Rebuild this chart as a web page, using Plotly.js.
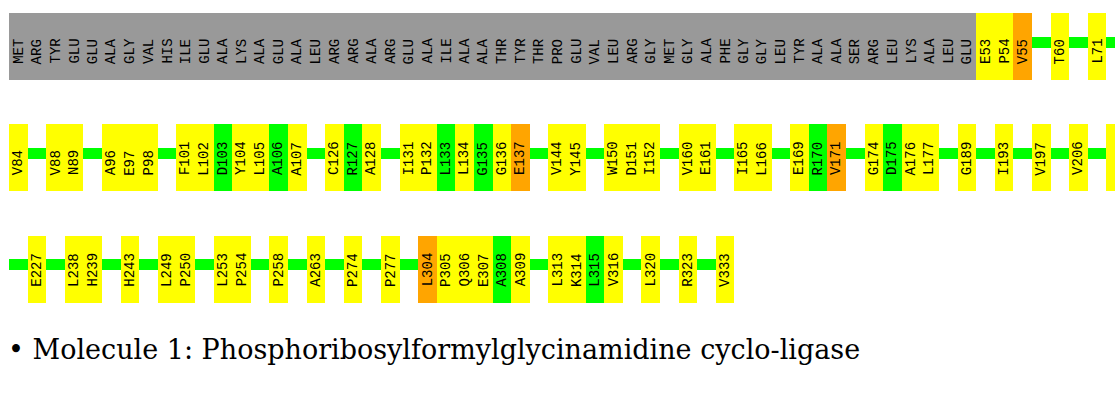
<!DOCTYPE html>
<html><head><meta charset="utf-8">
<script src="https://cdn.plot.ly/plotly-3.0.1.min.js"></script>
<style>html,body{margin:0;padding:0;background:#fff}#chart{width:1115px;height:406px}</style>
</head><body><div id="chart"></div>
<script>
// ---------- data ----------
const moleculeTitle = "\u2022 Molecule 1: Phosphoribosylformylglycinamidine cyclo-ligase";
const unmodelledResidues = ["MET","ARG","TYR","GLU","GLU","ALA","GLY","VAL","HIS","ILE","GLU","ALA","LYS","ALA","GLU",
  "ALA","LEU","ARG","ARG","ALA","ARG","GLU","ALA","ILE","ALA","ALA","THR","TYR","THR",
  "PRO","GLU","VAL","LEU","ARG","GLY","MET","GLY","ALA","PHE","GLY","GLY","LEU","TYR","ALA",
  "ALA","SER","ARG","LEU","LYS","ALA","LEU","GLU"];
const residueLabels = ["E53","P54","V55","T60","L71","V84","V88","N89","A96","E97","P98","F101","L102","D103","Y104","L105","A106","A107",
  "C126","R127","A128","I131","P132","L133","L134","G135","G136","E137","V144","Y145","W150","D151","I152","V160","E161",
  "I165","L166","E169","R170","V171","G174","D175","A176","L177","G189","I193","V197","V206","L209","E227","L238","H239",
  "H243","L249","P250","L253","P254","P258","A263","P274","P277","L304","P305","Q306","E307","A308","A309","L313","K314",
  "L315","V316","L320","R323","V333"];
// 0 = no outlier class (green), 1 = one (yellow), 2 = two (orange)
const outlierClass = [1,1,2,1,1,1,1,1,1,1,1,1,1,0,1,1,0,1,
  1,0,1,1,1,0,1,0,1,2,1,1,1,1,1,1,1,
  1,1,1,0,2,1,0,1,1,1,1,1,1,1,1,1,1,
  1,1,1,1,1,1,1,1,1,2,1,1,1,0,1,1,1,
  0,1,1,1,1];

// ---------- layout constants ----------
const W = 1115, H = 406;
const slotPx = 18.6, leftPx = 9, slotsPerRow = 60;
const rowTops = [13, 124.4, 235.8];
const boxH = 66.7, lineOff = 23.5, lineH = 11, textBottom = 51;
const classColor = ["#00ff00", "#ffff00", "#ffa500"];
const grayColor = "#999999", lineColor = "#00ff00";

// build slots: unmodelled, then modelled residues with a gap slot for each break in numbering
const slots = [];
unmodelledResidues.forEach(r => slots.push({label: r, color: grayColor, gap: false}));
let prevNum = unmodelledResidues.length;
residueLabels.forEach((lab, i) => {
  const num = parseInt(lab.slice(1), 10);
  if (num !== prevNum + 1) slots.push({label: "", color: lineColor, gap: true});
  slots.push({label: lab, color: classColor[outlierClass[i]], gap: false});
  prevNum = num;
});

const groups = {};
const annotations = [];
slots.forEach((s, k) => {
  const row = Math.floor(k / slotsPerRow), col = k % slotsPerRow;
  const key = s.color + (s.gap ? "g" : "");
  if (!groups[key]) groups[key] = {x: [], base: [], y: [], color: s.color};
  const g = groups[key];
  g.x.push(col);
  if (s.gap) { g.base.push(rowTops[row] + lineOff); g.y.push(lineH); }
  else { g.base.push(rowTops[row]); g.y.push(boxH); }
  if (!s.gap) {
    annotations.push({x: col, y: rowTops[row] + textBottom, xref: "x", yref: "y",
      text: s.label, textangle: -90, showarrow: false, xanchor: "center", yanchor: "bottom",
      borderpad: 0, borderwidth: 0,
      font: {family: "Liberation Mono, monospace", size: 14, color: "#000"}});
  }
});

const order = [lineColor + "g", grayColor, "#ffff00", "#ffa500", "#00ff00"];
const traces = order.filter(k => groups[k]).map(k => ({
  type: "bar", x: groups[k].x, base: groups[k].base, y: groups[k].y, width: 1,
  marker: {color: groups[k].color, line: {width: 0}}, hoverinfo: "skip", showlegend: false
}));

const xMin = -0.5 - leftPx / slotPx;
const xMax = xMin + W / slotPx;
const layout = {
  width: W, height: H, margin: {l: 0, r: 0, t: 0, b: 0},
  paper_bgcolor: "#fff", plot_bgcolor: "#fff", barmode: "overlay", bargap: 0,
  xaxis: {range: [xMin, xMax], visible: false, fixedrange: true},
  yaxis: {range: [H, 0], visible: false, fixedrange: true},
  annotations: annotations,
  title: {text: moleculeTitle, xref: "container", yref: "container", x: 8 / W, xanchor: "left",
    y: 1 - 350 / H, yanchor: "middle",
    font: {family: "DejaVu Serif, serif", size: 27, color: "#000"}},
  showlegend: false
};
Plotly.newPlot("chart", traces, layout, {displayModeBar: false, staticPlot: true});
</script></body></html>
